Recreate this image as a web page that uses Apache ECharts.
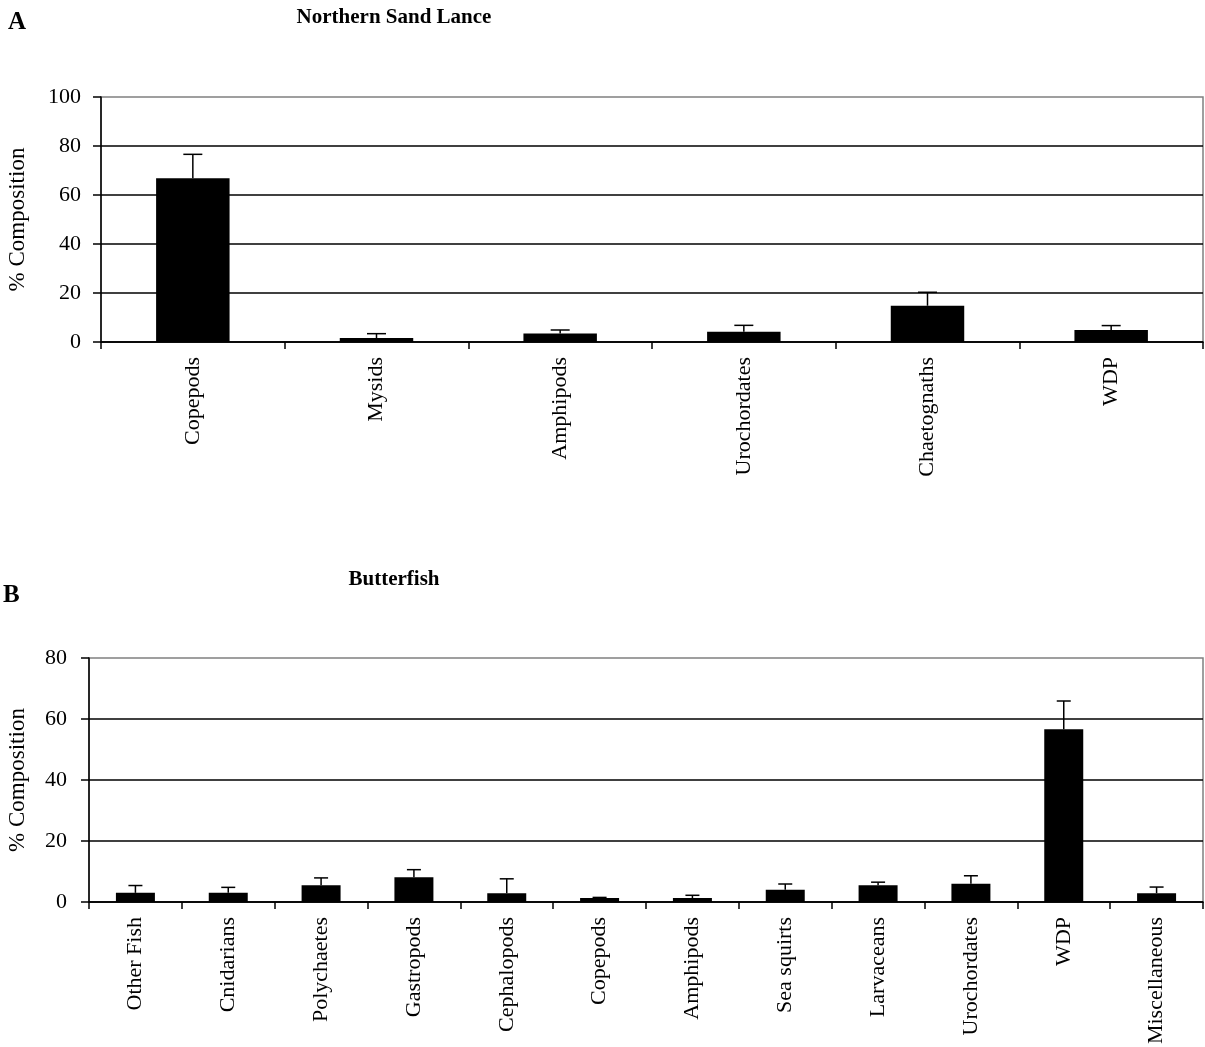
<!DOCTYPE html>
<html>
<head>
<meta charset="utf-8">
<title>Diet composition</title>
<script src="https://cdn.jsdelivr.net/npm/echarts@6/dist/echarts.min.js"></script>
<style>
  html, body { margin: 0; padding: 0; background: #fff; }
  #chart { width: 1205px; height: 1047px; }
</style>
</head>
<body>
<div id="chart"></div>
<script>
// Panel A: Northern Sand Lance prey categories, mean % composition and +SE
const sandLancePrey = ['Copepods', 'Mysids', 'Amphipods', 'Urochordates', 'Chaetognaths', 'WDP'];
const sandLanceMean = [66.8, 1.6, 3.5, 4.2, 14.8, 4.9];
const sandLanceSE = [9.8, 1.8, 1.4, 2.6, 5.5, 1.8];

// Panel B: Butterfish prey categories, mean % composition and +SE
const butterfishPrey = ['Other Fish', 'Cnidarians', 'Polychaetes', 'Gastropods', 'Cephalopods', 'Copepods',
  'Amphipods', 'Sea squirts', 'Larvaceans', 'Urochordates', 'WDP', 'Miscellaneous'];
const butterfishMean = [3.0, 3.0, 5.5, 8.1, 2.9, 1.3, 1.3, 4.0, 5.5, 6.0, 56.6, 2.9];
const butterfishSE = [2.4, 1.8, 2.4, 2.5, 4.7, 0.2, 0.9, 1.9, 1.0, 2.6, 9.3, 2.0];

// Y-axis ranges
const sandLanceAxis = { min: 0, max: 100, interval: 20 };
const butterfishAxis = { min: 0, max: 80, interval: 20 };

const FONT = 'Liberation Serif, Times New Roman, serif';

function errorData(mean, se) {
  return mean.map((m, i) => [i, m, se[i]]);
}

// Upward error bar with a horizontal cap, placed through the axis scales
function errorBar(capHalf) {
  return function (params, api) {
    const idx = api.value(0);
    const m = api.value(1);
    const e = api.value(2);
    const base = api.coord([idx, m]);
    const top = api.coord([idx, m + e]);
    const st = { stroke: '#000', lineWidth: 1.5 };
    return {
      type: 'group',
      children: [
        { type: 'line', shape: { x1: base[0], y1: base[1], x2: top[0], y2: top[1] }, style: st },
        { type: 'line', shape: { x1: top[0] - capHalf, y1: top[1], x2: top[0] + capHalf, y2: top[1] }, style: st }
      ]
    };
  };
}

function xAxisFor(gridIndex, cats) {
  return {
    type: 'category',
    gridIndex: gridIndex,
    data: cats,
    boundaryGap: true,
    axisLine: { show: true, lineStyle: { color: '#000', width: 1.5 } },
    axisTick: { show: true, alignWithLabel: false, length: 7, lineStyle: { color: '#000', width: 1.5 } },
    axisLabel: { rotate: 90, margin: 15, color: '#000', fontFamily: FONT, fontSize: 22, interval: 0 },
    splitLine: { show: false }
  };
}

function yAxisFor(gridIndex, range, nameGap, labelMargin) {
  return {
    type: 'value',
    gridIndex: gridIndex,
    min: range.min,
    max: range.max,
    interval: range.interval,
    name: '% Composition',
    nameLocation: 'middle',
    nameGap: nameGap,
    nameMoveOverlap: false,
    nameTextStyle: { color: '#000', fontFamily: FONT, fontSize: 23 },
    axisLine: { show: true, lineStyle: { color: '#000', width: 1.5 } },
    axisTick: { show: true, length: 8, lineStyle: { color: '#000', width: 1.5 } },
    axisLabel: { margin: labelMargin, color: '#000', fontFamily: FONT, fontSize: 22 },
    splitLine: { show: true, showMaxLine: false, lineStyle: { color: '#000', width: 1.5 } }
  };
}

const chart = echarts.init(document.getElementById('chart'), null, { renderer: 'canvas' });

chart.setOption({
  animation: false,
  backgroundColor: '#fff',
  graphic: [
    { type: 'text', x: 8, y: 10, style: { text: 'A', font: 'bold 25px ' + FONT, fill: '#000', textAlign: 'left', textVerticalAlign: 'top' } },
    { type: 'text', x: 394, y: 7, style: { text: 'Northern Sand Lance', font: 'bold 21px ' + FONT, fill: '#000', textAlign: 'center', textVerticalAlign: 'top' } },
    { type: 'text', x: 3, y: 583, style: { text: 'B', font: 'bold 25px ' + FONT, fill: '#000', textAlign: 'left', textVerticalAlign: 'top' } },
    { type: 'text', x: 394, y: 569, style: { text: 'Butterfish', font: 'bold 21px ' + FONT, fill: '#000', textAlign: 'center', textVerticalAlign: 'top' } }
  ],
  grid: [
    { left: 101, top: 97, width: 1102, height: 245, show: true, borderColor: '#808080', borderWidth: 1.5,
      backgroundColor: 'transparent', containLabel: false, outerBoundsMode: 'none' },
    { left: 89, top: 658, width: 1114, height: 244, show: true, borderColor: '#808080', borderWidth: 1.5,
      backgroundColor: 'transparent', containLabel: false, outerBoundsMode: 'none' }
  ],
  xAxis: [xAxisFor(0, sandLancePrey), xAxisFor(1, butterfishPrey)],
  yAxis: [yAxisFor(0, sandLanceAxis, 72, 20), yAxisFor(1, butterfishAxis, 60, 22)],
  series: [
    {
      type: 'bar', xAxisIndex: 0, yAxisIndex: 0, data: sandLanceMean,
      barWidth: '40%', itemStyle: { color: '#000' }, z: 3
    },
    {
      type: 'custom', xAxisIndex: 0, yAxisIndex: 0,
      data: errorData(sandLanceMean, sandLanceSE),
      encode: { x: 0, y: 1 },
      renderItem: errorBar(9.5), z: 4
    },
    {
      type: 'bar', xAxisIndex: 1, yAxisIndex: 1, data: butterfishMean,
      barWidth: '42%', itemStyle: { color: '#000' }, z: 3
    },
    {
      type: 'custom', xAxisIndex: 1, yAxisIndex: 1,
      data: errorData(butterfishMean, butterfishSE),
      encode: { x: 0, y: 1 },
      renderItem: errorBar(7), z: 4
    }
  ]
});
</script>
</body>
</html>
